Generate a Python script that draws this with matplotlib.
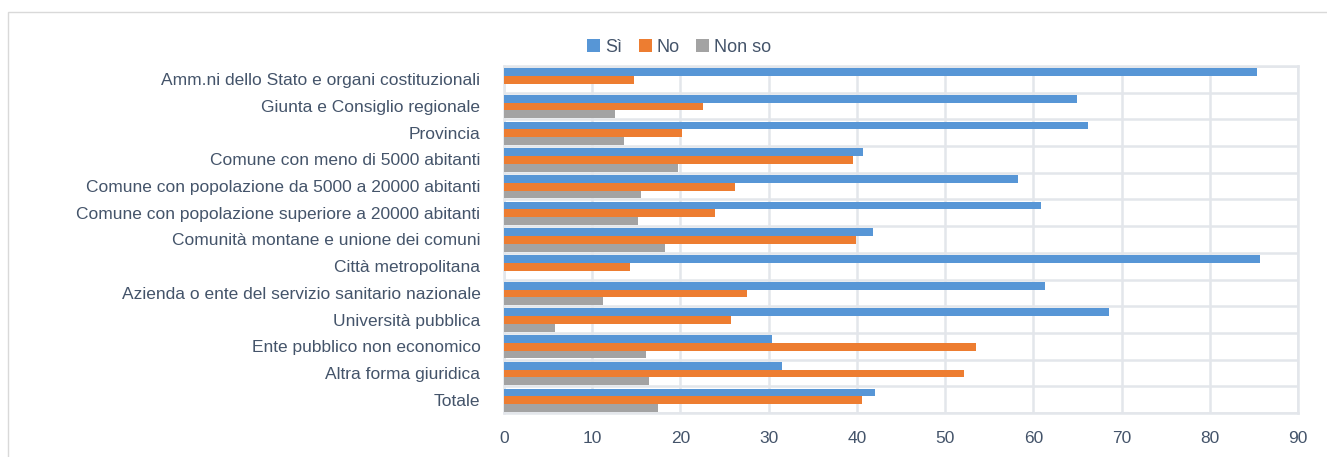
import matplotlib.pyplot as plt
import numpy as np
from matplotlib.patches import Rectangle

categories = [
    'Amm.ni dello Stato e organi costituzionali',
    'Giunta e Consiglio regionale',
    'Provincia',
    'Comune con meno di 5000 abitanti',
    'Comune con popolazione da 5000 a 20000 abitanti',
    'Comune con popolazione superiore a 20000 abitanti',
    'Comunità montane e unione dei comuni',
    'Città metropolitana',
    'Azienda o ente del servizio sanitario nazionale',
    'Università pubblica',
    'Ente pubblico non economico',
    'Altra forma giuridica',
    'Totale',
]
si = [85.3, 65.0, 66.2, 40.7, 58.3, 60.9, 41.8, 85.7, 61.3, 68.6, 30.4, 31.5, 42.0]
no = [14.7, 22.5, 20.2, 39.6, 26.2, 23.9, 39.9, 14.3, 27.5, 25.7, 53.5, 52.1, 40.6]
non_so = [0, 12.6, 13.6, 19.7, 15.5, 15.2, 18.3, 0, 11.2, 5.8, 16.1, 16.4, 17.4]
series_names = ['Sì', 'No', 'Non so']
colors = ['#5796D6', '#ED7D31', '#A3A3A3']

text_color = '#44546A'
grid_color = '#E3E6EB'
font = ['Liberation Sans Narrow', 'Liberation Sans', 'DejaVu Sans']

fig = plt.figure(figsize=(13.27, 4.57), dpi=100)
ax = fig.add_axes([504 / 1327, 44 / 457, 794 / 1327, 347 / 457])

# outer chart frame
fig.patches.append(Rectangle((8 / 1327, -0.1), 1.2, 445 / 457 + 0.1,
                             transform=fig.transFigure, fill=False,
                             edgecolor='#D9D9D9', linewidth=1.0))

y = np.arange(len(categories))
h = 0.29
for i, (vals, name, c) in enumerate(zip([si, no, non_so], series_names, colors)):
    ax.barh(y + (i - 1) * h + 0.02, vals, height=h, color=c, label=name,
            linewidth=0, zorder=3)

ax.set_xlim(0, 90)
ax.set_ylim(len(categories) - 0.5, -0.5)
ax.set_xticks(np.arange(0, 91, 10))
ax.set_yticks(y)
ax.set_yticklabels(categories)
ax.set_yticks(np.arange(-0.5, len(categories), 1), minor=True)

ax.grid(axis='x', color=grid_color, linewidth=1.8, zorder=0)
ax.grid(axis='y', which='minor', color=grid_color, linewidth=1.8, zorder=0)
ax.tick_params(axis='both', which='both', length=0, colors=text_color)
ax.tick_params(axis='x', pad=13)
ax.tick_params(axis='y', pad=17)
for lab in ax.get_xticklabels() + ax.get_yticklabels():
    lab.set_family(font)
    lab.set_fontsize(12.5)
    lab.set_color(text_color)
for s in ax.spines.values():
    s.set_color(grid_color)
    s.set_linewidth(1.8)

ax.legend(loc='lower center', bbox_to_anchor=(0.221, 0.982), ncol=3, frameon=False,
          handlelength=0.7, handleheight=0.7, handletextpad=0.3, columnspacing=0.9,
          prop={'family': font, 'size': 13}, labelcolor=text_color)

fig.savefig('out.png', dpi=100)
